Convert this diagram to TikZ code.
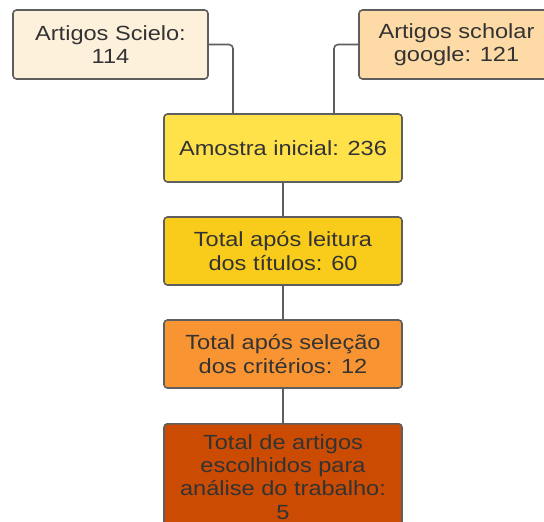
\documentclass[tikz,border=0pt]{standalone}
\usepackage{fontspec}
\setmainfont{Liberation Sans}[FakeStretch=1.15]
\definecolor{bordc}{HTML}{5E5E5E}
\definecolor{txtc}{HTML}{333333}
\definecolor{cA}{HTML}{FDF1DC}
\definecolor{cB}{HTML}{FEDBA6}
\definecolor{cC}{HTML}{FFE14A}
\definecolor{cD}{HTML}{F9CC1C}
\definecolor{cE}{HTML}{F99433}
\definecolor{cF}{HTML}{CB4B02}
\tikzset{
  box/.style={draw=bordc, line width=1.6pt, rounded corners=3.5pt, text=txtc,
    align=center, inner sep=0pt, font=\fontsize{20.5}{23.3}\selectfont},
  link/.style={draw=bordc, line width=1.6pt, rounded corners=4pt}
}
\begin{document}
\begin{tikzpicture}[x=1pt,y=-1pt]
\clip (0,0) rectangle (544,522);
\fill[white] (0,0) rectangle (544,522);
\node[box, fill=cA, minimum width=195pt, minimum height=69pt] (s) at (110.5,44.5) {Artigos Scielo:\\114};
\node[box, fill=cB, minimum width=195pt, minimum height=69pt] (g) at (456.5,44.5) {Artigos scholar\\google: 121};
\node[box, fill=cC, minimum width=238pt, minimum height=68pt] (a) at (283,148) {Amostra inicial: 236};
\node[box, fill=cD, minimum width=238pt, minimum height=68pt] (l) at (283,251) {Total após leitura\\dos títulos: 60};
\node[box, fill=cE, minimum width=238pt, minimum height=68pt] (c) at (283,354) {Total após seleção\\dos critérios: 12};
\node[box, fill=cF, minimum width=238pt, minimum height=106pt, anchor=north] (f) at (283,423) {Total de artigos\\escolhidos para\\análise do trabalho:\\5};
\draw[link] (s.east) -| ([xshift=-50pt]a.north);
\draw[link] (g.west) -| ([xshift=51pt]a.north);
\draw[link] (a.south) -- (l.north);
\draw[link] (l.south) -- (c.north);
\draw[link] (c.south) -- (f.north);
\end{tikzpicture}
\end{document}
